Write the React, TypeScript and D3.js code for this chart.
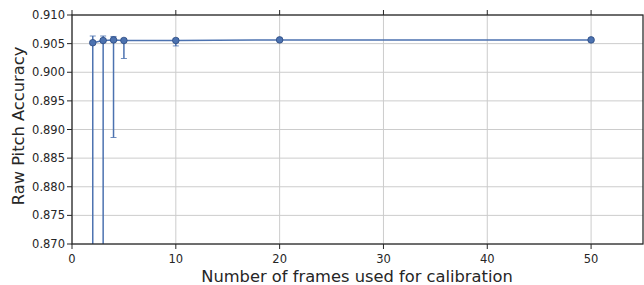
import React from "react";
import * as d3 from "d3";

const frames = [2, 3, 4, 5, 10, 20, 50];
const accuracy = [0.90516, 0.90555, 0.90565, 0.90555, 0.90555, 0.90565, 0.90565];
const errUpper = [0.90633, 0.90633, 0.90625, 0.9058, 0.9058, 0.9058, 0.9058];
const errLower = [0.86, 0.86, 0.8886, 0.9024, 0.9046, 0.9055, 0.9055];
const xTicks = [0, 10, 20, 30, 40, 50];
const yTicks = [0.87, 0.875, 0.88, 0.885, 0.89, 0.895, 0.9, 0.905, 0.91];

const W = 644, H = 285;
const m = { left: 72, right: 643, top: 15, bottom: 244 };
const color = "#4c72b0";
const font = "DejaVu Sans, sans-serif";

export default function App() {
  const x = d3.scaleLinear().domain([0, 55]).range([m.left, m.right]);
  const y = d3.scaleLinear().domain([0.87, 0.91]).range([m.bottom, m.top]);
  const line = d3.line<number>().x((_, i) => x(frames[i])).y((d) => y(d));
  const clampY = (v: number) => y(Math.max(0.87, Math.min(0.91, v)));
  return (
    <svg width={W} height={H} style={{ position: "absolute", left: 0, top: 0 }}>
      <rect x={0} y={0} width={W} height={H} fill="white" />
      <defs>
        <clipPath id="plot">
          <rect x={m.left} y={m.top} width={m.right - m.left} height={m.bottom - m.top} />
        </clipPath>
      </defs>
      {yTicks.map((t) => (
        <line key={"gy" + t} x1={m.left} x2={m.right} y1={y(t)} y2={y(t)} stroke="#cccccc" strokeWidth={1} />
      ))}
      {xTicks.map((t) => (
        <line key={"gx" + t} x1={x(t)} x2={x(t)} y1={m.top} y2={m.bottom} stroke="#cccccc" strokeWidth={1} />
      ))}
      <g clipPath="url(#plot)">
        {frames.map((f, i) => (
          <g key={"e" + f}>
            <line x1={x(f)} x2={x(f)} y1={clampY(errUpper[i])} y2={y(errLower[i])} stroke={color} strokeWidth={1.5} />
            <line x1={x(f) - 3} x2={x(f) + 3} y1={y(errUpper[i])} y2={y(errUpper[i])} stroke={color} strokeWidth={1} opacity={0.8} />
            <line x1={x(f) - 3} x2={x(f) + 3} y1={y(errLower[i])} y2={y(errLower[i])} stroke={color} strokeWidth={1} opacity={0.8} />
          </g>
        ))}
        <path d={line(accuracy) || ""} fill="none" stroke={color} strokeWidth={1.5} />
        {frames.map((f, i) => (
          <circle key={"c" + f} cx={x(f)} cy={y(accuracy[i])} r={3.3} fill={color} stroke="#2c4a80" strokeWidth={0.8} />
        ))}
      </g>
      <rect x={m.left} y={m.top} width={m.right - m.left} height={m.bottom - m.top} fill="none" stroke="#262626" strokeWidth={1.25} />
      {yTicks.map((t) => (
        <g key={"ty" + t}>
          <line x1={m.left - 5} x2={m.left} y1={y(t)} y2={y(t)} stroke="#262626" strokeWidth={1} />
          <text x={m.left - 7} y={y(t)} dy="0.35em" textAnchor="end" fontFamily={font} fontSize={11.5} fill="#262626">
            {t.toFixed(3)}
          </text>
        </g>
      ))}
      {xTicks.map((t) => (
        <g key={"tx" + t}>
          <line x1={x(t)} x2={x(t)} y1={m.bottom} y2={m.bottom + 5} stroke="#262626" strokeWidth={1} />
          <line x1={x(t)} x2={x(t)} y1={m.top - 5} y2={m.top} stroke="#262626" strokeWidth={1} />
          <text x={x(t)} y={m.bottom + 19} textAnchor="middle" fontFamily={font} fontSize={11.5} fill="#262626">
            {t}
          </text>
        </g>
      ))}
      <text x={357} y={282} textAnchor="middle" fontFamily={font} fontSize={16.3} fill="#262626">
        Number of frames used for calibration
      </text>
      <text transform={`translate(24,126) rotate(-90)`} textAnchor="middle" fontFamily={font} fontSize={16.3} fill="#262626">
        Raw Pitch Accuracy
      </text>
    </svg>
  );
}
